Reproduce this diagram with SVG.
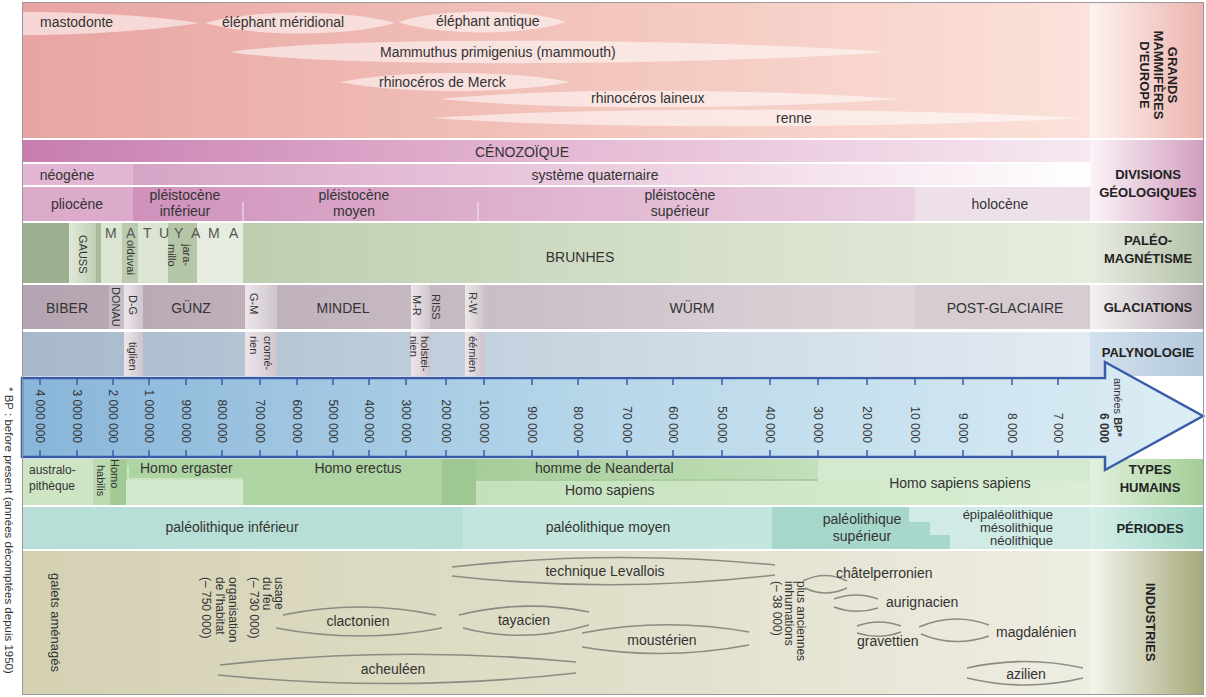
<svg xmlns="http://www.w3.org/2000/svg" width="1206" height="697" viewBox="0 0 1206 697">
<defs>
<linearGradient id="gMam" x1="0" x2="1" y1="0" y2="0"><stop offset="0" stop-color="#e8a4a2"/><stop offset="0.55" stop-color="#f3c6be"/><stop offset="1" stop-color="#fbe2da"/></linearGradient>
<linearGradient id="gMamL" x1="0" x2="1" y1="0" y2="0"><stop offset="0" stop-color="#fdf3f0"/><stop offset="1" stop-color="#edb3ae"/></linearGradient>
<linearGradient id="gGeo1" x1="0" x2="1" y1="0" y2="0"><stop offset="0" stop-color="#c77daf"/><stop offset="0.5" stop-color="#e4b8d3"/><stop offset="1" stop-color="#f6e9f1"/></linearGradient>
<linearGradient id="gGeo2" x1="0" x2="1" y1="0" y2="0"><stop offset="0" stop-color="#d29ac0"/><stop offset="0.6" stop-color="#eed2e3"/><stop offset="1" stop-color="#ffffff"/></linearGradient>
<linearGradient id="gGeo3" x1="0" x2="1" y1="0" y2="0"><stop offset="0" stop-color="#cb88b7"/><stop offset="0.5" stop-color="#e0b5d0"/><stop offset="1" stop-color="#efdde8"/></linearGradient>
<linearGradient id="gGeoL" x1="0" x2="1" y1="0" y2="0"><stop offset="0" stop-color="#fbf4f8"/><stop offset="1" stop-color="#d29dc0"/></linearGradient>
<linearGradient id="gPal" x1="0" x2="1" y1="0" y2="0"><stop offset="0" stop-color="#b3c5a3"/><stop offset="0.6" stop-color="#d3dec7"/><stop offset="1" stop-color="#e7eddd"/></linearGradient>
<linearGradient id="gPalL" x1="0" x2="1" y1="0" y2="0"><stop offset="0" stop-color="#e8ece2"/><stop offset="1" stop-color="#b3c1a6"/></linearGradient>
<linearGradient id="gGla" x1="0" x2="1" y1="0" y2="0"><stop offset="0" stop-color="#b4a3b0"/><stop offset="0.5" stop-color="#cdc1c9"/><stop offset="1" stop-color="#e6e0e3"/></linearGradient>
<linearGradient id="gGlaL" x1="0" x2="1" y1="0" y2="0"><stop offset="0" stop-color="#f4f1f3"/><stop offset="1" stop-color="#b9abb5"/></linearGradient>
<linearGradient id="gPly" x1="0" x2="1" y1="0" y2="0"><stop offset="0" stop-color="#a6b8ca"/><stop offset="0.5" stop-color="#c8d5e1"/><stop offset="1" stop-color="#e3ebf2"/></linearGradient>
<linearGradient id="gPlyL" x1="0" x2="1" y1="0" y2="0"><stop offset="0" stop-color="#d3e1ed"/><stop offset="1" stop-color="#b3c9dc"/></linearGradient>
<linearGradient id="gAxis" x1="0" x2="1" y1="0" y2="0"><stop offset="0" stop-color="#88b5d9"/><stop offset="0.5" stop-color="#b8d7ea"/><stop offset="1" stop-color="#dcedf4"/></linearGradient>
<linearGradient id="gTypL" x1="0" x2="1" y1="0" y2="0"><stop offset="0" stop-color="#e3f1de"/><stop offset="1" stop-color="#a3cd95"/></linearGradient>
<linearGradient id="gNea" x1="0" x2="1" y1="0" y2="0"><stop offset="0" stop-color="#a6cc9a"/><stop offset="1" stop-color="#c3e0ba"/></linearGradient>
<linearGradient id="gSap" x1="0" x2="1" y1="0" y2="0"><stop offset="0" stop-color="#c4e1bb"/><stop offset="1" stop-color="#daeed4"/></linearGradient>
<linearGradient id="gPerL" x1="0" x2="1" y1="0" y2="0"><stop offset="0" stop-color="#d6efe8"/><stop offset="1" stop-color="#9fd5c5"/></linearGradient>
<linearGradient id="gInd" x1="0" x2="1" y1="0" y2="0"><stop offset="0" stop-color="#d4d1b3"/><stop offset="0.6" stop-color="#e2e0cc"/><stop offset="1" stop-color="#eeede2"/></linearGradient>
<linearGradient id="gIndL" x1="0" x2="1" y1="0" y2="0"><stop offset="0" stop-color="#f5f5ee"/><stop offset="1" stop-color="#a6a87a"/></linearGradient>
<linearGradient id="gStrip" x1="0" x2="1" y1="0" y2="0"><stop offset="0" stop-color="#ece6ea"/><stop offset="1" stop-color="#cfc5cc"/></linearGradient>
<linearGradient id="gStripG" x1="0" x2="1" y1="0" y2="0"><stop offset="0" stop-color="#e1e9da"/><stop offset="1" stop-color="#bfcfb3"/></linearGradient>
</defs>
<style>
text{font-family:"Liberation Sans",Arial,sans-serif;fill:#333;font-size:14px}
.lab{font-weight:bold;font-size:13px;fill:#222;text-anchor:middle}
.m{text-anchor:middle}
.e{text-anchor:end}
.v{font-size:12px}
.s{font-size:11px}
.lens{fill:none;stroke:#8b8b82;stroke-width:1.6}
.tk{stroke:#3a5ca8;stroke-width:1.5;fill:none}
.sp{fill:#ffffff;opacity:0.55}
.div{stroke:#f3e6ee;stroke-width:1}
</style>
<rect width="1206" height="697" fill="#ffffff"/>

<g id="mammiferes">
<rect x="22" y="3" width="1068" height="135" fill="url(#gMam)"/>
<rect x="1090" y="3" width="114" height="135" fill="url(#gMamL)"/>
<path class="sp" d="M23,12 C100,12 160,17 200,23 C160,29 100,35 23,35 Z"/>
<path class="sp" d="M205,23 C255,9 345,9 395,23 C345,37 255,37 205,23 Z"/>
<path class="sp" d="M398,22 C440,8 524,8 566,22 C524,36 440,36 398,22 Z"/>
<path class="sp" d="M230,52 C330,36 700,38 886,52 C700,66 330,68 230,52 Z"/>
<path class="sp" d="M340,82 C400,70 510,70 570,82 C510,94 400,94 340,82 Z"/>
<path class="sp" d="M440,99 C560,87 760,89 900,99 C760,109 560,111 440,99 Z"/>
<path class="sp" d="M432,118 C600,106 900,108 1083,118 C900,128 600,130 432,118 Z"/>
<text x="40" y="27">mastodonte</text>
<text x="222" y="27">éléphant méridional</text>
<text x="436" y="26">éléphant antique</text>
<text x="380" y="57">Mammuthus primigenius (mammouth)</text>
<text x="379" y="87">rhinocéros de Merck</text>
<text x="591" y="103">rhinocéros laineux</text>
<text x="776" y="123">renne</text>
<text class="lab" transform="translate(1168,75) rotate(90)">GRANDS</text>
<text class="lab" transform="translate(1154,75) rotate(90)">MAMMIFÈRES</text>
<text class="lab" transform="translate(1140,75) rotate(90)">D'EUROPE</text>
</g>

<g id="divisions">
<rect x="22" y="140" width="1068" height="22" fill="url(#gGeo1)"/>
<rect x="22" y="164" width="1068" height="21" fill="url(#gGeo2)"/>
<rect x="22" y="164" width="111" height="21" fill="#e2b5d2"/>
<rect x="22" y="187" width="1068" height="34" fill="url(#gGeo3)"/>
<rect x="22" y="187" width="111" height="34" fill="#dcaacb"/>
<rect x="915" y="187" width="175" height="34" fill="#eee0e9"/>
<line class="div" x1="243" y1="202" x2="243" y2="221"/>
<line class="div" x1="478" y1="202" x2="478" y2="221"/>
<rect x="1090" y="140" width="114" height="81" fill="url(#gGeoL)"/>
<text class="m" x="522" y="157">CÉNOZOÏQUE</text>
<text class="m" x="67" y="180">néogène</text>
<text class="m" x="595" y="180">système quaternaire</text>
<text class="m" x="77" y="209">pliocène</text>
<text class="m" x="185" y="200">pléistocène</text>
<text class="m" x="185" y="216">inférieur</text>
<text class="m" x="354" y="200">pléistocène</text>
<text class="m" x="354" y="216">moyen</text>
<text class="m" x="680" y="200">pléistocène</text>
<text class="m" x="680" y="216">supérieur</text>
<text class="m" x="1000" y="209">holocène</text>
<text class="lab" x="1148" y="179">DIVISIONS</text>
<text class="lab" x="1148" y="197">GÉOLOGIQUES</text>
</g>

<g id="paleomagnetisme">
<rect x="22" y="223" width="1068" height="60" fill="url(#gPal)"/>
<rect x="22" y="223" width="47" height="60" fill="#9db08f"/>
<rect x="69" y="223" width="27" height="60" fill="url(#gStripG)"/>
<rect x="96" y="223" width="5" height="60" fill="#a9bb9b"/>
<rect x="101" y="223" width="142" height="60" fill="#dbe5d2"/>
<rect x="122" y="223" width="16" height="60" fill="#bccbb0"/>
<rect x="168" y="223" width="29" height="60" fill="#b4c6a6"/>
<rect x="197" y="223" width="46" height="60" fill="#e6ede0"/>
<rect x="1090" y="223" width="114" height="60" fill="url(#gPalL)"/>
<text x="105 126 143 159 174 191 208 229" y="238" style="fill:#555">MATUYAMA</text>
<text class="s" transform="translate(79,235) rotate(90)">GAUSS</text>
<text class="s" transform="translate(127,240) rotate(90)">olduvai</text>
<text class="s" transform="translate(183,244) rotate(90)">jara-</text>
<text class="s" transform="translate(168,244) rotate(90)">millo</text>
<text class="m" x="580" y="262">BRUNHES</text>
<text class="lab" x="1148" y="245">PALÉO-</text>
<text class="lab" x="1148" y="263">MAGNÉTISME</text>
</g>

<g id="glaciations">
<rect x="22" y="285" width="1068" height="44" fill="url(#gGla)"/>
<rect x="109" y="285" width="15" height="44" fill="#c9bec6"/>
<rect x="124" y="285" width="19" height="44" fill="url(#gStrip)"/>
<rect x="245" y="285" width="32" height="44" fill="url(#gStrip)"/>
<rect x="411" y="285" width="19" height="44" fill="url(#gStrip)"/>
<rect x="430" y="285" width="35" height="44" fill="#c5b9c2"/>
<rect x="465" y="285" width="19" height="44" fill="url(#gStrip)"/>
<rect x="915" y="285" width="175" height="44" fill="#d6ccd2"/>
<rect x="1090" y="285" width="114" height="44" fill="url(#gGlaL)"/>
<text class="m" x="67" y="313">BIBER</text>
<text class="s" transform="translate(112,287) rotate(90)">DONAU</text>
<text class="s" transform="translate(129,295) rotate(90)">D-G</text>
<text class="m" x="191" y="313">GÜNZ</text>
<text class="s" transform="translate(250,293) rotate(90)">G-M</text>
<text class="m" x="343" y="313">MINDEL</text>
<text class="s" transform="translate(413,295) rotate(90)">M-R</text>
<text class="s" transform="translate(432,294) rotate(90)">RISS</text>
<text class="s" transform="translate(469,292) rotate(90)">R-W</text>
<text class="m" x="692" y="313">WÜRM</text>
<text class="m" x="1005" y="313">POST-GLACIAIRE</text>
<text class="lab" x="1148" y="312">GLACIATIONS</text>
</g>

<g id="palynologie">
<rect x="22" y="332" width="1068" height="44" fill="url(#gPly)"/>
<rect x="124" y="332" width="19" height="44" fill="url(#gStrip)"/>
<rect x="245" y="332" width="32" height="44" fill="url(#gStrip)"/>
<rect x="411" y="332" width="19" height="44" fill="url(#gStrip)"/>
<rect x="465" y="332" width="19" height="44" fill="url(#gStrip)"/>
<rect x="1090" y="332" width="114" height="44" fill="url(#gPlyL)"/>
<text class="s" transform="translate(129,342) rotate(90)">tiglien</text>
<text class="s" transform="translate(264,336) rotate(90)">cromé-</text>
<text class="s" transform="translate(250,336) rotate(90)">rien</text>
<text class="s" transform="translate(421,336) rotate(90)">holstei-</text>
<text class="s" transform="translate(410,336) rotate(90)">nien</text>
<text class="s" transform="translate(469,336) rotate(90)">éémien</text>
<text class="lab" x="1148" y="357">PALYNOLOGIE</text>
</g>

<g id="types-humains">
<rect x="22" y="459" width="1068" height="46" fill="#a8cf9d"/>
<rect x="22" y="459" width="71" height="46" fill="#cde5c5"/>
<rect x="93" y="459" width="17" height="46" fill="#bcdab2"/>
<rect x="110" y="459" width="16" height="46" fill="#a2ca96"/>
<rect x="126" y="459" width="316" height="46" fill="#afd4a4"/>
<rect x="126" y="480" width="117" height="25" fill="#d3e9cd"/>
<path d="M128,466 V479 H243" fill="none" stroke="#e4f1df" stroke-width="1"/>
<rect x="442" y="459" width="34" height="46" fill="#9ec792"/>
<rect x="476" y="459" width="342" height="20" fill="url(#gNea)"/>
<rect x="476" y="481" width="614" height="24" fill="url(#gSap)"/>
<rect x="818" y="459" width="272" height="22" fill="#d4eace"/>
<rect x="1090" y="459" width="114" height="46" fill="url(#gTypL)"/>
<text class="v" x="29" y="474">australo-</text>
<text class="v" x="29" y="490">pithèque</text>
<text class="s" transform="translate(111,459) rotate(90)">Homo</text>
<text class="s" transform="translate(97,465) rotate(90)">habilis</text>
<text x="140" y="473">Homo ergaster</text>
<text class="m" x="358" y="473">Homo erectus</text>
<text x="535" y="473">homme de Neandertal</text>
<text x="565" y="495">Homo sapiens</text>
<text class="m" x="960" y="488">Homo sapiens sapiens</text>
<text class="lab" x="1150" y="474">TYPES</text>
<text class="lab" x="1150" y="492">HUMAINS</text>
</g>

<g id="periodes">
<rect x="22" y="507" width="441" height="42" fill="#b7dfd7"/>
<rect x="463" y="507" width="309" height="42" fill="#c2e5dd"/>
<polygon points="772,507 909,507 909,522 930,522 930,535 950,535 950,549 772,549" fill="#a7d7cb"/>
<polygon points="909,507 1090,507 1090,549 950,549 950,535 930,535 930,522 909,522" fill="#d0ebe5"/>
<rect x="1090" y="507" width="114" height="42" fill="url(#gPerL)"/>
<text class="m" x="232" y="532">paléolithique inférieur</text>
<text class="m" x="608" y="532">paléolithique moyen</text>
<text class="m" x="862" y="524">paléolithique</text>
<text class="m" x="862" y="541">supérieur</text>
<text class="e" x="1053" y="519" style="font-size:13px">épipaléolithique</text>
<text class="e" x="1053" y="532" style="font-size:13px">mésolithique</text>
<text class="e" x="1053" y="545" style="font-size:13px">néolithique</text>
<text class="lab" x="1150" y="533">PÉRIODES</text>
</g>

<g id="industries">
<rect x="22" y="551" width="1068" height="143" fill="url(#gInd)"/>
<rect x="1090" y="551" width="114" height="143" fill="url(#gIndL)"/>
<text class="v" style="font-size:13px" transform="translate(51,573) rotate(90)">galets aménagés</text>
<text class="v" transform="translate(275,577) rotate(90)">usage</text>
<text class="v" transform="translate(263,577) rotate(90)">du feu</text>
<text class="v" transform="translate(250,577) rotate(90)">(– 730 000)</text>
<text class="v" transform="translate(229,577) rotate(90)">organisation</text>
<text class="v" transform="translate(216,577) rotate(90)">de l'habitat</text>
<text class="v" transform="translate(202,577) rotate(90)">(– 750 000)</text>
<text class="v" transform="translate(797,581) rotate(90)">plus anciennes</text>
<text class="v" transform="translate(785,581) rotate(90)">inhumations</text>
<text class="v" transform="translate(773,581) rotate(90)">(– 38 000)</text>
<path class="lens" d="M452,567 Q612,549 775,565 M452,576 Q612,594 775,575"/>
<path class="lens" d="M283,615 Q360,599 436,615 M276,628 Q360,644 442,628"/>
<path class="lens" d="M459,615 Q524,599 589,612 M463,628 Q524,644 589,625"/>
<path class="lens" d="M582,633 Q665,617 749,632 M582,647 Q665,661 749,645"/>
<path class="lens" d="M220,665 Q398,645 576,662 M218,675 Q398,693 576,673"/>
<path class="lens" d="M803,581 Q825,570 847,581 M805,588 Q825,598 847,588"/>
<path class="lens" d="M834,599 Q856,591 878,599 M834,607 Q856,615 878,608"/>
<path class="lens" d="M857,626 Q879,618 901,626 M857,633 Q879,640 901,632"/>
<path class="lens" d="M919,627 Q954,612 989,625 M921,634 Q954,648 989,636"/>
<path class="lens" d="M967,668 Q1025,655 1083,668 M967,678 Q1025,692 1083,678"/>
<text class="m" x="605" y="576">technique Levallois</text>
<text class="m" x="358" y="626">clactonien</text>
<text class="m" x="524" y="625">tayacien</text>
<text class="m" x="662" y="645">moustérien</text>
<text class="m" x="393" y="674">acheuléen</text>
<text x="836" y="578">châtelperronien</text>
<text x="886" y="607">aurignacien</text>
<text x="857" y="646">gravettien</text>
<text x="996" y="637">magdalénien</text>
<text class="m" x="1026" y="679">azilien</text>
<text class="lab" transform="translate(1146,622) rotate(90)">INDUSTRIES</text>
</g>

<g id="axe">
<path d="M22,378 H1105 V362 L1203,416 L1105,470 V457 H22 Z" fill="url(#gAxis)" stroke="#3a5ca8" stroke-width="2.5" stroke-linejoin="miter"/>
<path class="tk" d="M40,379v6M40,450v6M77,379v6M77,450v6M113,379v6M113,450v6M149,379v6M149,450v6M186,379v6M186,450v6M222,379v6M222,450v6M260,379v6M260,450v6M297,379v6M297,450v6M333,379v6M333,450v6M369,379v6M369,450v6M406,379v6M406,450v6M446,379v6M446,450v6M484,379v6M484,450v6M532,379v6M532,450v6M578,379v6M578,450v6M627,379v6M627,450v6M673,379v6M673,450v6M722,379v6M722,450v6M770,379v6M770,450v6M818,379v6M818,450v6M867,379v6M867,450v6M915,379v6M915,450v6M963,379v6M963,450v6M1012,379v6M1012,450v6M1058,379v6M1058,450v6"/>
<g class="e">
<text class="v e" transform="translate(36,443) rotate(90)">4 000 000</text>
<text class="v e" transform="translate(73,443) rotate(90)">3 000 000</text>
<text class="v e" transform="translate(109,443) rotate(90)">2 000 000</text>
<text class="v e" transform="translate(145,443) rotate(90)">1 000 000</text>
<text class="v e" transform="translate(182,443) rotate(90)">900 000</text>
<text class="v e" transform="translate(218,443) rotate(90)">800 000</text>
<text class="v e" transform="translate(256,443) rotate(90)">700 000</text>
<text class="v e" transform="translate(293,443) rotate(90)">600 000</text>
<text class="v e" transform="translate(329,443) rotate(90)">500 000</text>
<text class="v e" transform="translate(365,443) rotate(90)">400 000</text>
<text class="v e" transform="translate(402,443) rotate(90)">300 000</text>
<text class="v e" transform="translate(442,443) rotate(90)">200 000</text>
<text class="v e" transform="translate(480,443) rotate(90)">100 000</text>
<text class="v e" transform="translate(528,443) rotate(90)">90 000</text>
<text class="v e" transform="translate(574,443) rotate(90)">80 000</text>
<text class="v e" transform="translate(623,443) rotate(90)">70 000</text>
<text class="v e" transform="translate(669,443) rotate(90)">60 000</text>
<text class="v e" transform="translate(718,443) rotate(90)">50 000</text>
<text class="v e" transform="translate(766,443) rotate(90)">40 000</text>
<text class="v e" transform="translate(814,443) rotate(90)">30 000</text>
<text class="v e" transform="translate(863,443) rotate(90)">20 000</text>
<text class="v e" transform="translate(911,443) rotate(90)">10 000</text>
<text class="v e" transform="translate(959,443) rotate(90)">9 000</text>
<text class="v e" transform="translate(1008,443) rotate(90)">8 000</text>
<text class="v e" transform="translate(1054,443) rotate(90)">7 000</text>
<text class="v e" transform="translate(1100,443) rotate(90)" style="font-weight:bold">6 000</text>
</g>
<text class="s" transform="translate(1114,378) rotate(90)">années <tspan style="font-weight:bold">BP*</tspan></text>
</g>

<g id="note">
<text style="font-size:11.5px" transform="translate(5,387) rotate(90)">* BP : before present (années décomptées depuis 1950)</text>
</g>
<rect x="22.5" y="2.5" width="1181" height="692" fill="none" stroke="#9a9a9a" stroke-width="1"/>
</svg>
